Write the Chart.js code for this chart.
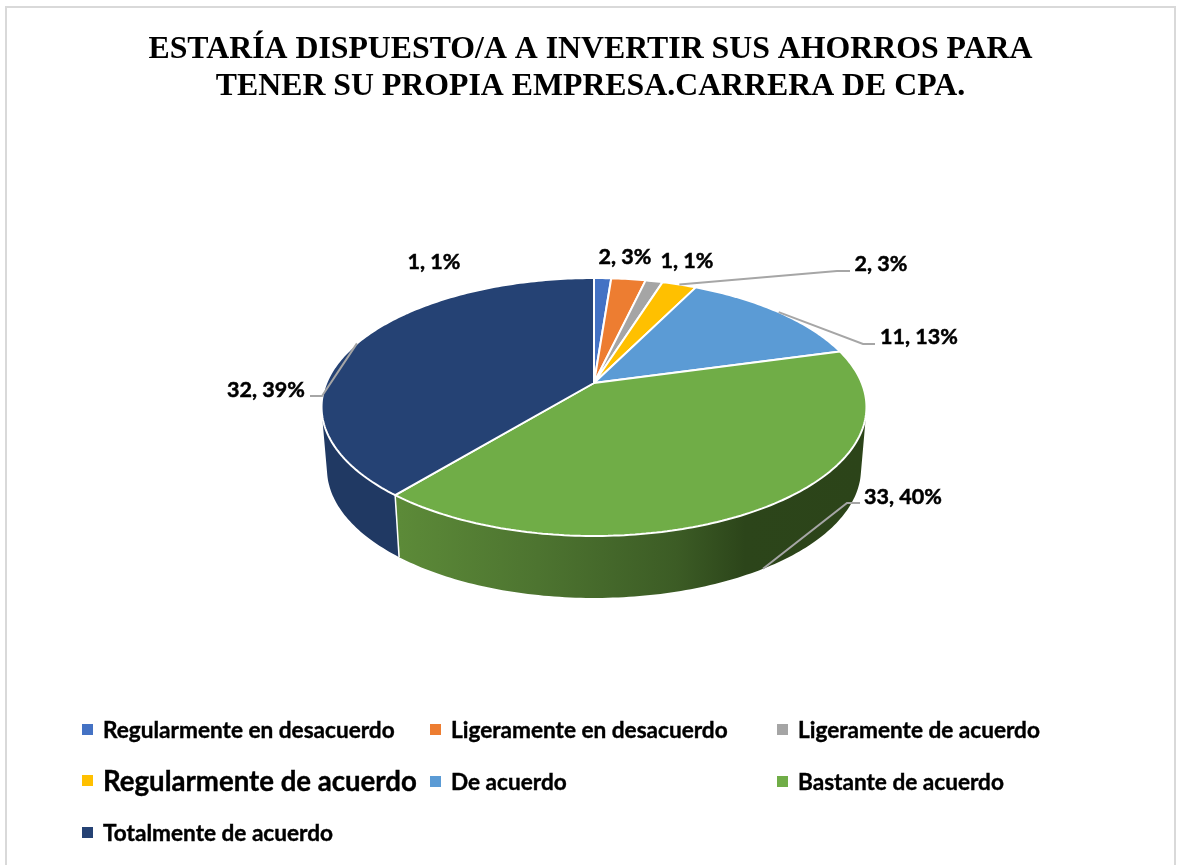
<!DOCTYPE html>
<html lang="es">
<head>
<meta charset="utf-8">
<title>Carrera de CPA</title>
<script src="https://cdn.jsdelivr.net/npm/chart.js@4"></script>
<style>
  html, body { margin: 0; height: 100%; background: #fff; overflow: hidden; }
  #frame { position: absolute; left: 5px; top: 6px; width: 1167px; height: 900px; border: 2px solid #d9d9d9; }
  canvas { position: absolute; left: 0; top: 0; }
  .key { position: absolute; font: bold 22.6px Lato, sans-serif; -webkit-text-stroke: 0.4px #000; color: #000; line-height: 26px; white-space: nowrap; }
  .key.big { font-size: 27.6px; }
  .key i { position: absolute; left: -21px; top: 7px; width: 11px; height: 11px; }
</style>
</head>
<body>
<div id="frame"></div>
<canvas id="pie" width="1181" height="865"></canvas>
<div id="legend"></div>
<script>
const titleLines = [
  "ESTARÍA DISPUESTO/A A INVERTIR SUS AHORROS PARA",
  "TENER SU PROPIA EMPRESA.CARRERA DE CPA.",
];
const categories = [
  "Regularmente en desacuerdo",
  "Ligeramente en desacuerdo",
  "Ligeramente de acuerdo",
  "Regularmente de acuerdo",
  "De acuerdo",
  "Bastante de acuerdo",
  "Totalmente de acuerdo",
];
const counts = [1, 2, 1, 2, 11, 33, 32];
const percents = [1, 3, 1, 3, 13, 40, 39];
const colors = ["#4472c4", "#ed7d31", "#a5a5a5", "#ffc000", "#5b9bd5", "#70ad47", "#254274"];

// label centres, and where the leader line stops (null = no leader)
const labelPos = [[434, 262], [625, 257], [687, 261], [881, 264], [919, 337], [903, 497], [266, 390]];
const leaderElbow = [null, null, null, [837, 271, 850], [863, 344, 875], [847, 503, 860], [322, 396, 310]];
const legendPos = [[103, 717], [451, 717], [798, 717], [103, 768], [451, 769], [798, 769], [103, 820]];

// the tilted disc: a circle seen in perspective, apex is not in the middle of the ellipse
const apexX = 594, apexY = 383;
const tilt = 0.186, scaleX = 267.7, scaleY = 124.5;
const wallDepth = 62, wallShrink = 0.98;

function rimPoint(u, v) {
  const w = 1 - tilt * v;
  return [apexX + (scaleX * u) / w, apexY + (scaleY * v) / w];
}

function lowerPoint(u, v) {
  const p = rimPoint(u, v);
  return [apexX + (p[0] - apexX) * wallShrink, p[1] + wallDepth];
}

function wallFill(ctx, index) {
  const g = ctx.createLinearGradient(400, 0, 860, 0);
  if (index === 5) {
    g.addColorStop(0, "#5c8a38");
    g.addColorStop(0.3, "#4d7430");
    g.addColorStop(0.6, "#3c5c25");
    g.addColorStop(0.75, "#2c451a");
    g.addColorStop(1, "#2c4419");
    return g;
  }
  if (index === 6) return "#203963";
  return colors[index];
}

function quadArea(q) {
  let sum = 0;
  q.forEach((p, i) => {
    const n = q[(i + 1) % q.length];
    sum += p[0] * n[1] - n[0] * p[1];
  });
  return sum;
}

const tiltedPie = {
  id: "tiltedPie",
  beforeDatasetsDraw(chart) {
    const ctx = chart.ctx;
    const arcs = chart.getDatasetMeta(0).data;

    // side wall, from the arcs the library laid out
    arcs.forEach((arc, i) => {
      const steps = Math.ceil((arc.endAngle - arc.startAngle) * 60);
      ctx.beginPath();
      for (let s = 0; s < steps; s++) {
        const a = arc.startAngle + ((arc.endAngle - arc.startAngle) * s) / steps;
        const b = arc.startAngle + ((arc.endAngle - arc.startAngle) * (s + 1)) / steps;
        const q = [
          rimPoint(Math.cos(a), Math.sin(a)),
          rimPoint(Math.cos(b), Math.sin(b)),
          lowerPoint(Math.cos(b), Math.sin(b)),
          lowerPoint(Math.cos(a), Math.sin(a)),
        ];
        // same winding everywhere or the back of the wall cancels the front
        if (quadArea(q) < 0) q.reverse();
        ctx.moveTo(q[0][0], q[0][1]);
        q.slice(1).forEach((p) => ctx.lineTo(p[0], p[1]));
        ctx.closePath();
      }
      ctx.fillStyle = wallFill(ctx, i);
      ctx.fill();
    });

    // white seam on the wall where two slices meet at the front
    arcs.forEach((arc) => {
      const u = Math.cos(arc.endAngle), v = Math.sin(arc.endAngle);
      if (v <= 0) return;
      ctx.beginPath();
      ctx.moveTo(...rimPoint(u, v));
      ctx.lineTo(...lowerPoint(u, v));
      ctx.strokeStyle = "#fff";
      ctx.lineWidth = 1.5;
      ctx.stroke();
    });

    // the library draws the top face, its path calls go through the projection
    const { x: cx, y: cy, outerRadius: r } = arcs[0];
    const proj = (px, py) => rimPoint((px - cx) / r, (py - cy) / r);
    const lineTo = ctx.lineTo.bind(ctx);
    const moveTo = ctx.moveTo.bind(ctx);
    ctx.moveTo = (px, py) => moveTo(...proj(px, py));
    ctx.lineTo = (px, py) => lineTo(...proj(px, py));
    ctx.arc = (px, py, rad, from, to, ccw) => {
      if (![px, py, rad, from, to].every(Number.isFinite)) return;
      const n = Math.max(2, Math.ceil(Math.abs(to - from) * 60));
      for (let s = 0; s <= n; s++) {
        const a = from + ((to - from) * s) / n;
        lineTo(...proj(px + rad * Math.cos(a), py + rad * Math.sin(a)));
      }
    };
  },
  afterDatasetsDraw(chart) {
    const ctx = chart.ctx;
    delete ctx.moveTo;
    delete ctx.lineTo;
    delete ctx.arc;

    const arcs = chart.getDatasetMeta(0).data;
    arcs.forEach((arc, i) => {
      const elbow = leaderElbow[i];
      if (elbow) {
        const mid = (arc.startAngle + arc.endAngle) / 2;
        const u = Math.cos(mid), v = Math.sin(mid);
        const from = v > 0 ? lowerPoint(u, v) : rimPoint(u, v);
        ctx.beginPath();
        ctx.moveTo(from[0], from[1]);
        ctx.lineTo(elbow[0], elbow[1]);
        ctx.lineTo(elbow[2], elbow[1]);
        ctx.strokeStyle = "#a6a6a6";
        ctx.lineWidth = 2;
        ctx.stroke();
      }
      const text = `${counts[i]}, ${percents[i]}%`;
      ctx.font = "bold 21.5px Lato, sans-serif";
      ctx.fillStyle = "#000";
      ctx.strokeStyle = "#000";
      ctx.lineWidth = 0.5;
      ctx.textAlign = "center";
      ctx.textBaseline = "middle";
      ctx.fillText(text, labelPos[i][0], labelPos[i][1]);
      ctx.strokeText(text, labelPos[i][0], labelPos[i][1]);
    });
  },
};

new Chart(document.getElementById("pie"), {
  type: "pie",
  data: {
    labels: categories,
    datasets: [
      {
        data: counts,
        backgroundColor: colors,
        borderColor: "#fff",
        borderWidth: 2,
        clip: false,
      },
    ],
  },
  options: {
    responsive: false,
    animation: false,
    layout: { padding: 0 },
    plugins: {
      legend: { display: false },
      tooltip: { enabled: false },
      title: {
        display: true,
        text: titleLines,
        color: "#000",
        font: { family: "'Liberation Serif', serif", size: 31.8, weight: "bold", lineHeight: 1.14 },
        padding: { top: 32, bottom: 20 },
      },
    },
  },
  plugins: [tiltedPie],
});

const legendEl = document.getElementById("legend");
categories.forEach((name, i) => {
  const key = document.createElement("div");
  key.className = i === 3 ? "key big" : "key";
  key.style.left = legendPos[i][0] + "px";
  key.style.top = legendPos[i][1] + "px";
  key.innerHTML = `<i style="background:${colors[i]}"></i>${name}`;
  legendEl.appendChild(key);
});
</script>
</body>
</html>
